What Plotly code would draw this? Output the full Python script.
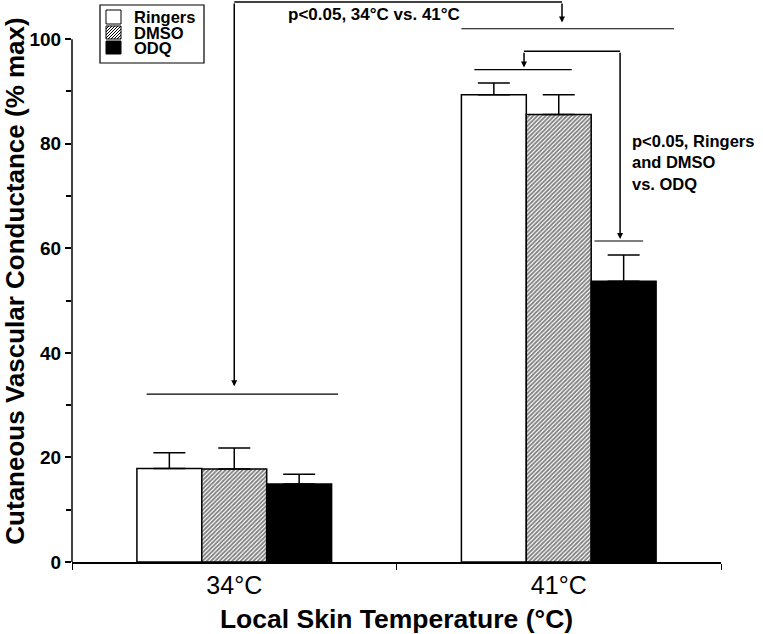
import plotly.graph_objects as go

# datos (% max)
temperaturas = ["34°C", "41°C"]
tratamientos = ["Ringers", "DMSO", "ODQ"]
ringers = [17.9, 89.4]
ringers_err = [3.0, 2.2]
dmso = [17.8, 85.6]
dmso_err = [4.0, 3.8]
odq = [14.9, 53.7]
odq_err = [1.9, 5.0]

FUENTE = "Liberation Sans, Arial, sans-serif"
NEGRO = "#000000"

# area del grafico en pixeles (para convertir posiciones fijas a coordenadas "paper")
IZQ, ANCHO, ALTO = 72, 649, 562


def px(x):
    return (x - IZQ) / ANCHO


def py(y):
    return 1 - y / ALTO


def barra(nombre, valores, errores, relleno, patron=None):
    return go.Bar(
        x=temperaturas, y=valores, name=nombre, showlegend=False,
        marker=dict(color=relleno, line=dict(color=NEGRO, width=1.5), pattern=patron),
        error_y=dict(type="data", array=errores, arrayminus=[0] * len(errores),
                     symmetric=False, color=NEGRO, thickness=1.5, width=16),
    )


fig = go.Figure()
fig.add_trace(barra("Ringers", ringers, ringers_err, "white"))
fig.add_trace(barra("DMSO", dmso, dmso_err, "white",
                    dict(shape="/", fgcolor=NEGRO, bgcolor="white", size=3, solidity=0.6)))
fig.add_trace(barra("ODQ", odq, odq_err, NEGRO))

# lineas de significancia y corchetes
lineas = [(-0.27, 0.32, 32.1), (0.70, 1.355, 102.0), (0.74, 1.04, 94.2), (1.11, 1.26, 61.4)]
for x0, x1, y in lineas:
    fig.add_shape(type="line", x0=x0, x1=x1, y0=y, y1=y, xref="x", yref="y",
                  line=dict(color=NEGRO, width=1.2))

fig.add_shape(type="line", x0=0.0, x1=1.01, y0=107.1, y1=107.1, xref="x", yref="y",
              line=dict(color=NEGRO, width=1.5))
fig.add_shape(type="line", x0=0.893, x1=1.189, y0=97.7, y1=97.7, xref="x", yref="y",
              line=dict(color=NEGRO, width=1.5))

flechas = [(0.0, 33.6, 107.1), (1.01, 103.2, 107.1), (0.893, 94.6, 97.7), (1.189, 61.8, 97.7)]
for x, y_punta, y_cola in flechas:
    fig.add_annotation(x=x, y=y_punta, ax=x, ay=y_cola, xref="x", yref="y", axref="x", ayref="y",
                       text="", showarrow=True, arrowhead=2, arrowsize=0.8, arrowwidth=1.5,
                       arrowcolor=NEGRO)

fig.add_annotation(x=px(374), y=py(15), xref="paper", yref="paper",
                   xanchor="center", yanchor="middle",
                   text="p<0.05, 34°C vs. 41°C", showarrow=False,
                   font=dict(family=FUENTE, size=17, color=NEGRO, weight="bold"))
fig.add_annotation(x=px(630), y=py(130), xref="paper", yref="paper",
                   xanchor="left", yanchor="top", align="left",
                   text="p<0.05, Ringers<br>and DMSO<br>vs. ODQ", showarrow=False,
                   font=dict(family=FUENTE, size=16.5, color=NEGRO, weight="bold"))

# linea del eje y solo hasta 100
fig.add_shape(type="line", x0=0, x1=0, y0=0, y1=100, xref="paper", yref="y",
              line=dict(color=NEGRO, width=1.5))

# leyenda dibujada a mano (filas mas juntas que la leyenda de plotly)
fig.add_shape(type="rect", x0=px(100), x1=px(204), y0=py(5), y1=py(63),
              xref="paper", yref="paper", line=dict(color=NEGRO, width=1.2), fillcolor="white")
filas_y = [(10, 24), (26, 39), (41, 54)]
rellenos = ["white", "hatch", NEGRO]
for nombre, (y0, y1), relleno in zip(tratamientos, filas_y, rellenos):
    fig.add_shape(type="rect", x0=px(106), x1=px(121), y0=py(y0), y1=py(y1),
                  xref="paper", yref="paper", line=dict(color=NEGRO, width=1),
                  fillcolor=NEGRO if relleno == NEGRO else "white")
    if relleno == "hatch":
        trazos = []
        for k in range(-13, 15, 3):
            xa, ya, xb, yb = 106 + k, y1, 106 + k + (y1 - y0), y0
            # recortar al cuadrado de la muestra
            if xa < 106:
                ya -= 106 - xa
                xa = 106
            if xb > 121:
                yb += xb - 121
                xb = 121
            if xb > xa:
                trazos.append(f"M{px(xa)},{py(ya)} L{px(xb)},{py(yb)}")
        fig.add_shape(type="path", path=" ".join(trazos), xref="paper", yref="paper",
                      line=dict(color=NEGRO, width=1))
    fig.add_annotation(x=px(133), y=py((y0 + y1) / 2 + 0.5), xref="paper", yref="paper",
                       xanchor="left", yanchor="middle", text=nombre, showarrow=False,
                       borderpad=0, font=dict(family=FUENTE, size=16.5, color=NEGRO, weight="bold"))

fig.update_layout(
    width=763, height=634,
    margin=dict(l=IZQ, r=763 - IZQ - ANCHO, t=0, b=634 - ALTO),
    paper_bgcolor="white", plot_bgcolor="white",
    barmode="group", bargap=0.4, bargroupgap=0,
    font=dict(family=FUENTE, color=NEGRO),
    showlegend=False,
)
fig.update_xaxes(
    range=[-0.5, 1.5], showline=True, linecolor=NEGRO, linewidth=1.5, automargin=False,
    ticks="outside", tickson="boundaries", ticklen=6, tickcolor=NEGRO,
    tickfont=dict(family=FUENTE, size=25, color=NEGRO),
    title=dict(text="Local Skin Temperature (°C)", standoff=12,
               font=dict(family=FUENTE, size=26.5, color=NEGRO, weight="bold")),
    showgrid=False, zeroline=False,
)
fig.update_yaxes(
    range=[0, 107.5], showline=False, showgrid=False, zeroline=False, automargin=False,
    tickvals=[0, 20, 40, 60, 80, 100], ticks="outside", ticklen=6, tickcolor=NEGRO, tickwidth=1.5,
    minor=dict(tickvals=[10, 30, 50, 70, 90], ticks="outside", ticklen=5, tickcolor=NEGRO),
    tickfont=dict(family=FUENTE, size=19, color=NEGRO, weight="bold"),
    title=dict(text="Cutaneous Vascular Conductance (% max)", standoff=13,
               font=dict(family=FUENTE, size=26, color=NEGRO, weight="bold")),
)

# el body trae 8px de margen por defecto; se quita para que el grafico arranque en (0,0)
fig.write_html("out.html", config={"displayModeBar": False},
               post_script="document.body.style.margin='0';")
